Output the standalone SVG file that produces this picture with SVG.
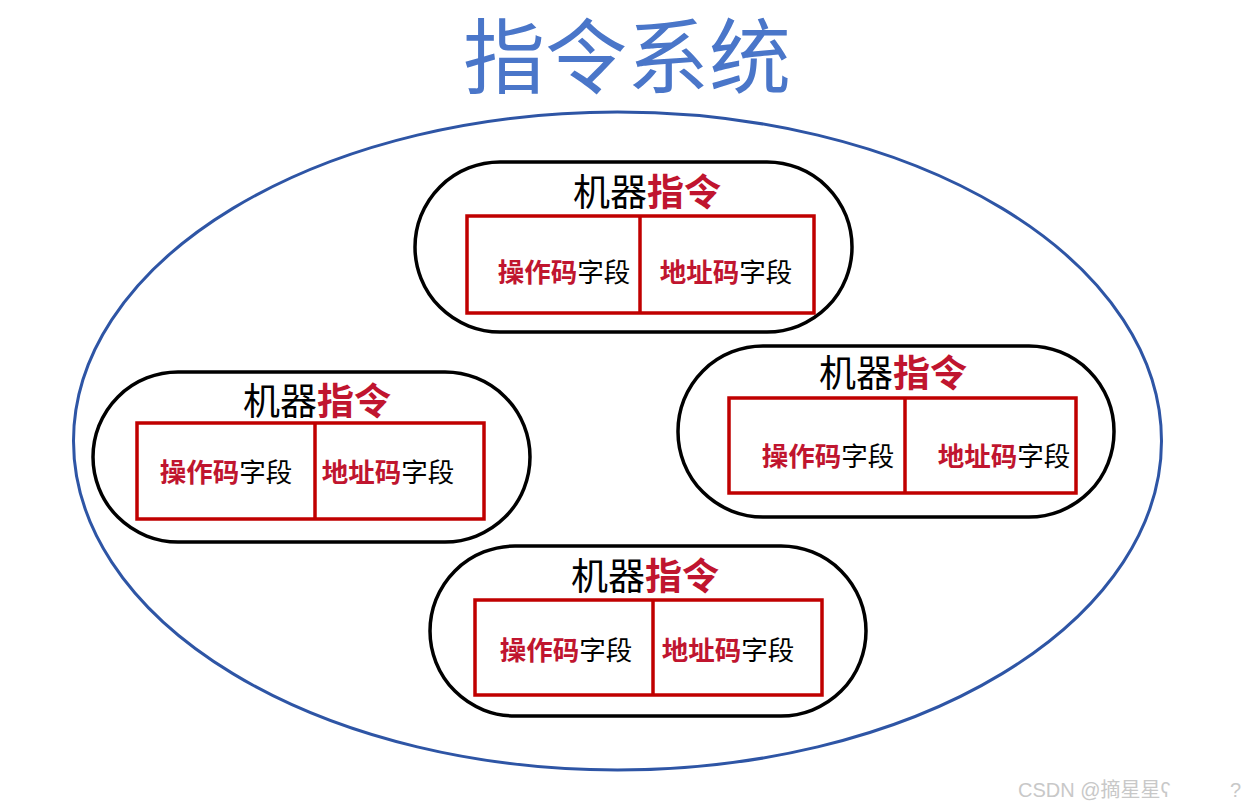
<svg xmlns="http://www.w3.org/2000/svg" width="1250" height="810" viewBox="0 0 1250 810">
<style>
.pill{fill:#fff;stroke:#000;stroke-width:3.5}
.box{fill:none;stroke:#C00000;stroke-width:3.5}
.ttl{font-family:"Noto Sans CJK SC",sans-serif;font-size:37px;fill:#000}
.fld{font-family:"Noto Sans CJK SC",sans-serif;font-size:26.5px;fill:#000}
.r{fill:#C0152F;font-weight:bold}
</style>
<rect width="1250" height="810" fill="#fff"/>
<text x="627" y="87" text-anchor="middle" font-family="'Noto Sans CJK SC',sans-serif" font-size="82" fill="#4A76C9">指令系统</text>
<ellipse id="system" cx="617.5" cy="441" rx="544" ry="329" fill="none" stroke="#2E55A5" stroke-width="3"/>
<g id="instr1">
<rect class="pill" x="415" y="162" width="437" height="170" rx="85"/>
<rect class="box" x="467" y="216" width="347" height="97"/>
<line class="box" x1="640" y1="216" x2="640" y2="313"/>
<text class="ttl" x="647" y="206" text-anchor="middle">机器<tspan class="r">指令</tspan></text>
<text class="fld" x="564" y="282" text-anchor="middle"><tspan class="r">操作码</tspan>字段</text>
<text class="fld" x="726" y="282" text-anchor="middle"><tspan class="r">地址码</tspan>字段</text>
</g>
<g id="instr2">
<rect class="pill" x="93" y="372" width="437" height="170" rx="85"/>
<rect class="box" x="137" y="423" width="347" height="96"/>
<line class="box" x1="315" y1="423" x2="315" y2="519"/>
<text class="ttl" x="317" y="415" text-anchor="middle">机器<tspan class="r">指令</tspan></text>
<text class="fld" x="226" y="482" text-anchor="middle"><tspan class="r">操作码</tspan>字段</text>
<text class="fld" x="388" y="482" text-anchor="middle"><tspan class="r">地址码</tspan>字段</text>
</g>
<g id="instr3">
<rect class="pill" x="678" y="346" width="436" height="171" rx="85"/>
<rect class="box" x="729" y="398" width="347" height="95"/>
<line class="box" x1="905" y1="398" x2="905" y2="493"/>
<text class="ttl" x="893" y="387" text-anchor="middle">机器<tspan class="r">指令</tspan></text>
<text class="fld" x="828" y="466" text-anchor="middle"><tspan class="r">操作码</tspan>字段</text>
<text class="fld" x="1004" y="466" text-anchor="middle"><tspan class="r">地址码</tspan>字段</text>
</g>
<g id="instr4">
<rect class="pill" x="430" y="546" width="436" height="170" rx="85"/>
<rect class="box" x="475" y="600" width="347" height="95"/>
<line class="box" x1="653" y1="600" x2="653" y2="695"/>
<text class="ttl" x="645" y="590" text-anchor="middle">机器<tspan class="r">指令</tspan></text>
<text class="fld" x="566" y="660" text-anchor="middle"><tspan class="r">操作码</tspan>字段</text>
<text class="fld" x="728" y="660" text-anchor="middle"><tspan class="r">地址码</tspan>字段</text>
</g>
<g id="connectors"/>
<text x="1018" y="797" font-family="'Liberation Sans','Noto Sans CJK SC',sans-serif" font-size="20" fill="#c8c8c8">CSDN @摘星星ʕ</text>
<text x="1230" y="797" font-family="'Liberation Sans',sans-serif" font-size="20" fill="#c8c8c8">?</text>
</svg>
